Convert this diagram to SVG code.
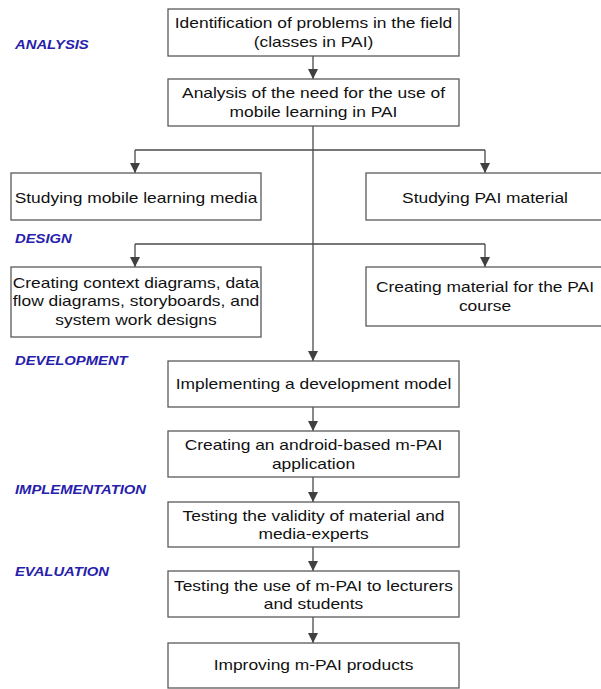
<svg xmlns="http://www.w3.org/2000/svg" width="601" height="689" viewBox="0 0 601 689">
<style>
.box{fill:#fff;stroke:#5a5a5a;stroke-width:1.3}
.t{font-family:"Liberation Sans",Arial,sans-serif;font-size:15px;fill:#111;text-anchor:middle}
.lab{font-family:"Liberation Sans",Arial,sans-serif;font-size:13px;font-weight:bold;font-style:italic;fill:#2620AC}
.c{fill:none;stroke:#4a4a4a;stroke-width:1.3}
</style>
<defs>
<marker id="ah" markerUnits="userSpaceOnUse" markerWidth="12" markerHeight="11" refX="10" refY="5" orient="auto">
<path d="M0,0 L10,5 L0,10 Z" fill="#404040"/>
</marker>
</defs>
<rect width="601" height="689" fill="#fff"/>
<g id="labels">
<text class="lab" transform="translate(15,49) scale(1.14,1)">ANALYSIS</text>
<text class="lab" transform="translate(15,243) scale(1.14,1)">DESIGN</text>
<text class="lab" transform="translate(15,365) scale(1.14,1)">DEVELOPMENT</text>
<text class="lab" transform="translate(15,494) scale(1.14,1)">IMPLEMENTATION</text>
<text class="lab" transform="translate(15,576) scale(1.14,1)">EVALUATION</text>
</g>
<g id="connectors">
<line class="c" x1="313" y1="56" x2="313" y2="79" marker-end="url(#ah)"/>
<line class="c" x1="313" y1="126" x2="313" y2="361" marker-end="url(#ah)"/>
<polyline class="c" points="135,150 485,150"/>
<line class="c" x1="135" y1="150" x2="135" y2="173" marker-end="url(#ah)"/>
<line class="c" x1="485" y1="150" x2="485" y2="173" marker-end="url(#ah)"/>
<polyline class="c" points="135,244 485,244"/>
<line class="c" x1="135" y1="244" x2="135" y2="267" marker-end="url(#ah)"/>
<line class="c" x1="485" y1="244" x2="485" y2="267" marker-end="url(#ah)"/>
<line class="c" x1="313" y1="407" x2="313" y2="431" marker-end="url(#ah)"/>
<line class="c" x1="313" y1="477" x2="313" y2="502" marker-end="url(#ah)"/>
<line class="c" x1="313" y1="547" x2="313" y2="571" marker-end="url(#ah)"/>
<line class="c" x1="313" y1="617" x2="313" y2="643" marker-end="url(#ah)"/>
</g>
<g id="n1">
<rect class="box" x="168" y="9" width="291" height="47"/>
<text class="t" transform="translate(313.5,28) scale(1.16,1)">Identification of problems in the field</text>
<text class="t" transform="translate(313.5,47) scale(1.16,1)">(classes in PAI)</text>
</g>
<g id="n2">
<rect class="box" x="168" y="79" width="291" height="47"/>
<text class="t" transform="translate(313.5,97.5) scale(1.16,1)">Analysis of the need for the use of</text>
<text class="t" transform="translate(313.5,116.5) scale(1.16,1)">mobile learning in PAI</text>
</g>
<g id="n3">
<rect class="box" x="11" y="173" width="250" height="47"/>
<text class="t" transform="translate(136,202.5) scale(1.16,1)">Studying mobile learning media</text>
</g>
<g id="n4">
<rect class="box" x="366" y="173" width="238" height="47"/>
<text class="t" transform="translate(485,202.5) scale(1.16,1)">Studying PAI material</text>
</g>
<g id="n5">
<rect class="box" x="11" y="267" width="250" height="70"/>
<text class="t" transform="translate(136,287.5) scale(1.16,1)">Creating context diagrams, data</text>
<text class="t" transform="translate(136,306) scale(1.16,1)">flow diagrams, storyboards, and</text>
<text class="t" transform="translate(136,324.5) scale(1.16,1)">system work designs</text>
</g>
<g id="n6">
<rect class="box" x="366" y="267" width="238" height="59"/>
<text class="t" transform="translate(485,292) scale(1.16,1)">Creating material for the PAI</text>
<text class="t" transform="translate(485,311) scale(1.16,1)">course</text>
</g>
<g id="n7">
<rect class="box" x="168" y="361" width="291" height="46"/>
<text class="t" transform="translate(313.5,389) scale(1.16,1)">Implementing a development model</text>
</g>
<g id="n8">
<rect class="box" x="168" y="431" width="291" height="46"/>
<text class="t" transform="translate(313.5,450) scale(1.16,1)">Creating an android-based m-PAI</text>
<text class="t" transform="translate(313.5,468.5) scale(1.16,1)">application</text>
</g>
<g id="n9">
<rect class="box" x="168" y="502" width="291" height="45"/>
<text class="t" transform="translate(313.5,520.5) scale(1.16,1)">Testing the validity of material and</text>
<text class="t" transform="translate(313.5,538.5) scale(1.16,1)">media-experts</text>
</g>
<g id="n10">
<rect class="box" x="168" y="571" width="291" height="46"/>
<text class="t" transform="translate(313.5,590.5) scale(1.16,1)">Testing the use of m-PAI to lecturers</text>
<text class="t" transform="translate(313.5,609) scale(1.16,1)">and students</text>
</g>
<g id="n11">
<rect class="box" x="168" y="643" width="291" height="45"/>
<text class="t" transform="translate(313.5,670) scale(1.16,1)">Improving m-PAI products</text>
</g>
</svg>
